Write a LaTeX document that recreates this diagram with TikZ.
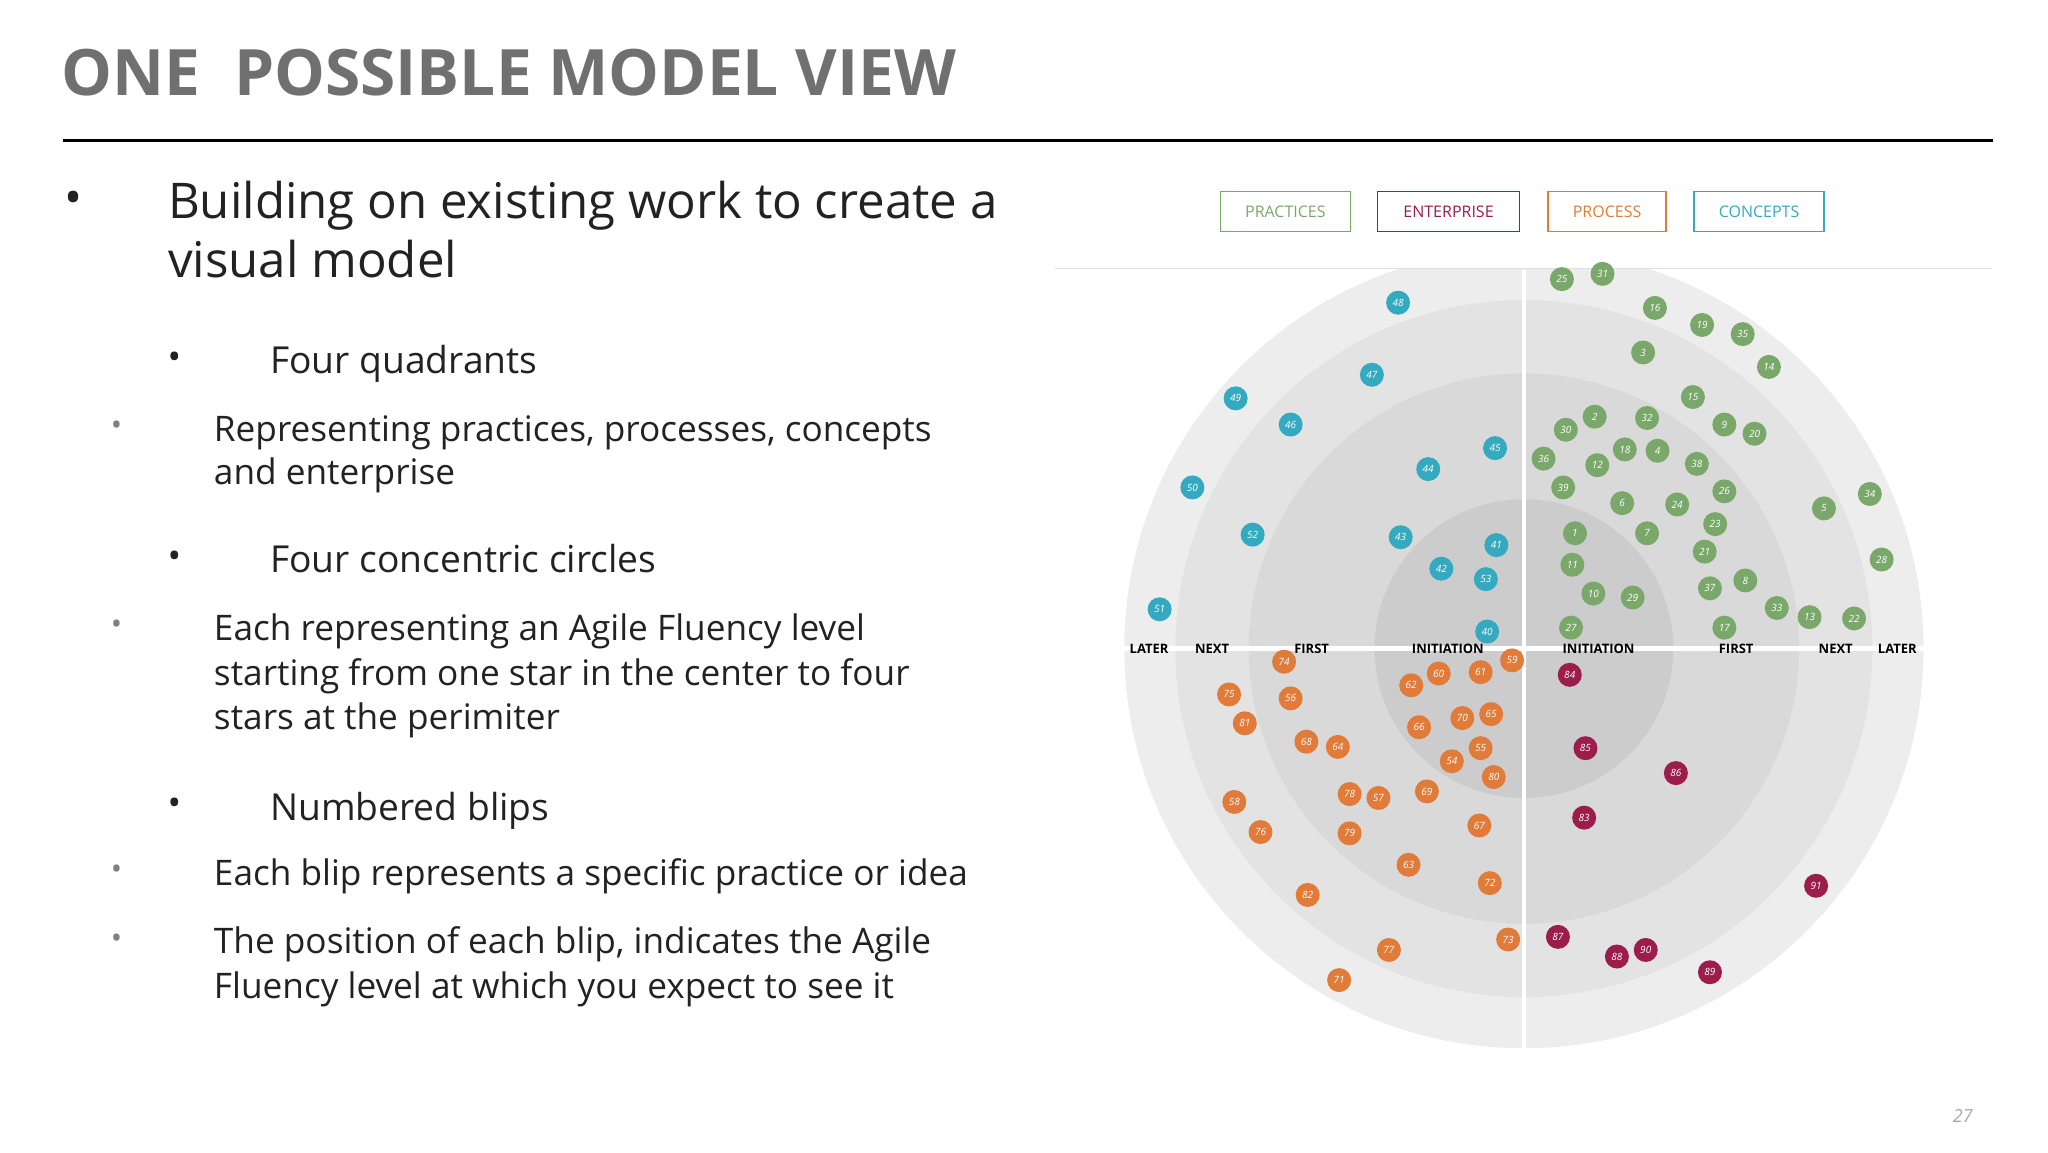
\documentclass[tikz,border=0pt]{standalone}
\usepackage{fontspec}
\setmainfont{Open Sans}
\definecolor{teal}{HTML}{35A9BF}
\definecolor{grn}{HTML}{7AA86A}
\definecolor{org}{HTML}{E07B39}
\definecolor{mar}{HTML}{9B1D4A}
\definecolor{ttl}{HTML}{707070}
\definecolor{txt}{HTML}{222222}
\tikzset{
 blip/.style={circle,fill=#1,inner sep=0pt,minimum size=12pt,text=white,font=\fontsize{5}{5}\selectfont\itshape},
 leg/.style={draw=#1,text=#1,line width=0.8pt,minimum width=65pt,minimum height=20pt,inner sep=0pt,font=\fontsize{8}{8}\selectfont},
 lvl/.style={font=\fontsize{6.5}{6.5}\selectfont\bfseries,text=black,anchor=base},
 big/.style={anchor=base west,text=txt,font=\fontsize{24.6}{29}\selectfont,inner sep=0pt},
 mid/.style={anchor=base west,text=txt,font=\fontsize{18.6}{22}\selectfont,inner sep=0pt},
 sml/.style={anchor=base west,text=txt,font=\fontsize{17.6}{22}\selectfont,inner sep=0pt},
 dot/.style={inner sep=0pt,text=#1},
}
\begin{document}
\begin{tikzpicture}[x=0.6552pt,y=-0.6552pt]
\useasboundingbox (0,0) rectangle (1563,879.2);
\node[anchor=base west,inner sep=0pt,text=ttl,font=\fontsize{32}{32}\selectfont\bfseries] (title) at (47,73) {ONE\ \ POSSIBLE MODEL VIEW};
\draw[line width=1.4pt] (48,107) coordinate (r1) -- (1521,107) coordinate (r2);
% bullets text
\node[dot=txt,font=\fontsize{24}{24}\selectfont] (d1) at (56,155) {•};
\node[big] (t1) at (128,167) {Building on existing work to create a};
\node[big] (t2) at (128,212) {visual model};
\node[dot=txt,font=\fontsize{18}{18}\selectfont] (d2) at (133,275) {•};
\node[mid] (t3) at (206,285) {Four quadrants};
\node[dot=gray,font=\fontsize{15}{15}\selectfont] (d3) at (89,327) {•};
\node[sml] (t4) at (163,337) {Representing practices, processes, concepts};
\node[sml] (t5) at (163,370) {and enterprise};
\node[dot=txt,font=\fontsize{18}{18}\selectfont] (d4) at (133,427) {•};
\node[mid] (t6) at (206,437) {Four concentric circles};
\node[dot=gray,font=\fontsize{15}{15}\selectfont] (d5) at (89,479) {•};
\node[sml] (t7) at (163,489) {Each representing an Agile Fluency level};
\node[sml] (t8) at (163,523) {starting from one star in the center to four};
\node[sml] (t9) at (163,557) {stars at the perimiter};
\node[dot=txt,font=\fontsize{18}{18}\selectfont] (d6) at (133,616) {•};
\node[mid] (t10) at (206,626) {Numbered blips};
\node[dot=gray,font=\fontsize{15}{15}\selectfont] (d7) at (89,666) {•};
\node[sml] (t11) at (163,676) {Each blip represents a specific practice or idea};
\node[dot=gray,font=\fontsize{15}{15}\selectfont] (d8) at (89,718) {•};
\node[sml] (t12) at (163,728) {The position of each blip, indicates the Agile};
\node[sml] (t13) at (163,762) {Fluency level at which you expect to see it};
% legend
\node[leg=grn] (lp) at (981,161.5) {PRACTICES};
\node[leg=mar,minimum width=71pt] (le) at (1105.5,161.5) {ENTERPRISE};
\node[leg=org,minimum width=59pt] (lr) at (1226.5,161.5) {PROCESS};
\node[leg=teal] (lc) at (1342.5,161.5) {CONCEPTS};
\draw[gray!25,line width=0.8pt] (805,205) coordinate (g1) -- (1520,205) coordinate (g2);
% radar
\begin{scope}
\clip (800,206) rectangle (1600,900);
\fill[gray!14] (1163,495) circle (305);
\fill[gray!22] (1163,495) circle (266);
\fill[gray!30] (1163,495) circle (210);
\fill[gray!40] (1163,495) circle (114);
\end{scope}
\draw[white,line width=2.2pt] (1163,206) coordinate (v1) -- (1163,800) coordinate (v2);
\draw[white,line width=2.2pt] (858,495) coordinate (h1) -- (1468,495) coordinate (h2);
\foreach \t/\x in {LATER/877,NEXT/925,FIRST/1001,INITIATION/1105,INITIATION/1220,FIRST/1325,NEXT/1401,LATER/1448}
  \node[lvl] (lab\x) at (\x,499) {\t};
\foreach \n/\x/\y in {48/1067/231,47/1047/286,49/943/304,46/985/324,45/1141/342,44/1090/358,50/910/372,52/956/408,43/1069/410,41/1142/416,42/1100/434,53/1134/442,51/885/465,40/1135/482}
  \node[blip=teal] (b\n) at (\x,\y) {\n};
\foreach \n/\x/\y in {25/1192/213,31/1223/209,16/1263/235,19/1299/248,35/1330/255,3/1254/269,14/1350/280,15/1292/303,2/1217/318,32/1257/319,9/1316/324,20/1339/331,30/1195/328,36/1178/350,18/1240/343,4/1265/344,12/1219/355,38/1295/354,39/1193/372,26/1316/375,6/1238/384,24/1280/385,5/1392/388,34/1427/377,23/1309/400,1/1202/407,7/1257/407,21/1301/421,28/1436/427,11/1200/431,8/1332/443,37/1305/449,10/1216/453,29/1246/456,33/1356/464,13/1381/471,22/1415/472,27/1199/479,17/1316/479}
  \node[blip=grn] (b\n) at (\x,\y) {\n};
\foreach \n/\x/\y in {74/980/505,59/1154/504,60/1098/514,61/1130/513,62/1077/523,75/938/530,56/985/533,81/950/552,66/1083/555,70/1116/548,65/1138/545,68/997/566,64/1021/570,55/1130/571,54/1108/581,80/1140/593,78/1030/606,57/1052/609,69/1089/604,58/942/612,67/1129/630,76/962/635,79/1030/636,63/1075/660,72/1137/674,82/998/683,73/1151/717,77/1060/725,71/1022/748}
  \node[blip=org] (b\n) at (\x,\y) {\n};
\foreach \n/\x/\y in {84/1198/515,85/1210/571,86/1279/590,83/1209/624,91/1386/676,87/1189/715,88/1234/730,90/1256/725,89/1305/742}
  \node[blip=mar] (b\n) at (\x,\y) {\n};
\node[text=gray!70,font=\fontsize{9}{9}\selectfont\itshape] (pg) at (1498,852) {27};
\end{tikzpicture}
\end{document}
